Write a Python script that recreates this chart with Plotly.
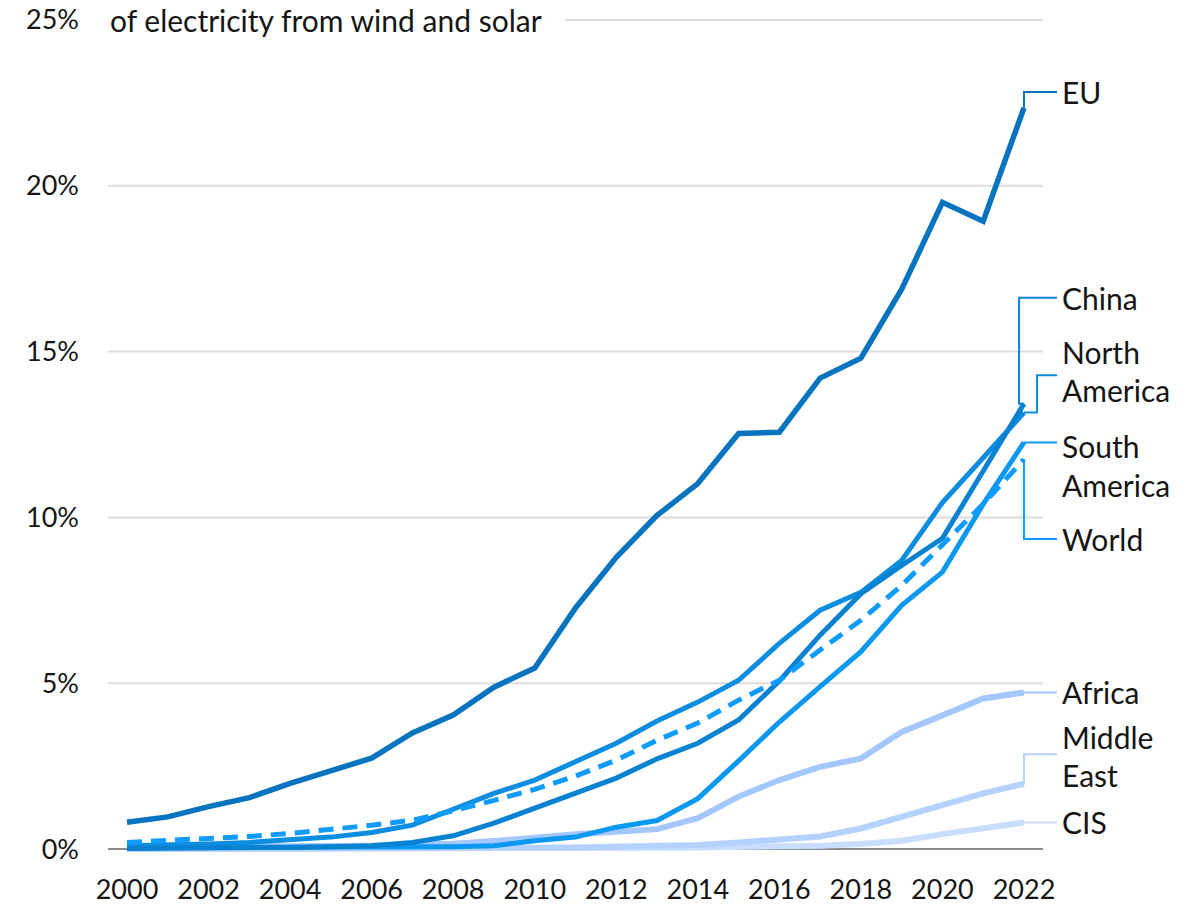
import plotly.graph_objects as go

# Share of electricity generated from wind and solar, by region (%)
years = list(range(2000, 2023))

eu = [0.81, 0.97, 1.28, 1.55, 1.98, 2.37, 2.74, 3.50, 4.04, 4.88, 5.46, 7.27,
      8.80, 10.06, 11.02, 12.53, 12.57, 14.20, 14.80, 16.88, 19.50, 18.93, 22.35]
china = [0.02, 0.02, 0.03, 0.04, 0.05, 0.07, 0.10, 0.20, 0.40, 0.78, 1.22, 1.70,
         2.14, 2.72, 3.19, 3.89, 5.07, 6.45, 7.70, 8.55, 9.37, 11.40, 13.43]
north_america = [0.10, 0.12, 0.15, 0.20, 0.27, 0.36, 0.50, 0.72, 1.20, 1.68, 2.08, 2.63,
                 3.19, 3.86, 4.43, 5.09, 6.20, 7.20, 7.74, 8.70, 10.45, 11.80, 13.16]
south_america = [0.04, 0.04, 0.04, 0.05, 0.05, 0.05, 0.05, 0.06, 0.07, 0.10, 0.25, 0.36,
                 0.66, 0.86, 1.52, 2.66, 3.83, 4.90, 5.95, 7.35, 8.35, 10.40, 12.26]
world = [0.20, 0.25, 0.31, 0.38, 0.47, 0.58, 0.72, 0.87, 1.15, 1.47, 1.80, 2.20,
         2.68, 3.28, 3.80, 4.49, 5.09, 6.00, 6.90, 7.95, 9.20, 10.40, 11.75]
africa = [0.05, 0.05, 0.06, 0.07, 0.08, 0.09, 0.10, 0.12, 0.16, 0.24, 0.36, 0.45,
          0.52, 0.60, 0.93, 1.58, 2.08, 2.48, 2.73, 3.53, 4.03, 4.54, 4.72]
middle_east = [0.00, 0.00, 0.00, 0.00, 0.01, 0.01, 0.01, 0.02, 0.02, 0.03, 0.04, 0.05,
               0.07, 0.09, 0.12, 0.20, 0.30, 0.38, 0.62, 0.97, 1.35, 1.68, 1.97]
cis = [0.00, 0.00, 0.00, 0.00, 0.00, 0.01, 0.01, 0.01, 0.02, 0.02, 0.02, 0.03,
       0.03, 0.04, 0.05, 0.06, 0.07, 0.10, 0.15, 0.25, 0.45, 0.62, 0.80]

y_ticks = [0, 5, 10, 15, 20, 25]
y_tick_labels = ["0%", "5%", "10%", "15%", "20%", "25%"]
x_ticks = list(range(2000, 2023, 2))
title_text = "of electricity from wind and solar"

FONT = "Lato"
TICK_FS = 27
LABEL_FS = 30
TEXT = "#151515"

# draw order: light regions underneath, EU and World on top
series = [
    dict(name="CIS", y=cis, color="#c9ddff", width=6, dash="solid"),
    dict(name="Middle East", y=middle_east, color="#b5d1ff", width=6, dash="solid"),
    dict(name="Africa", y=africa, color="#a4c7ff", width=6, dash="solid"),
    dict(name="South America", y=south_america, color="#0b98f0", width=5, dash="solid"),
    dict(name="North America", y=north_america, color="#0c8de0", width=5, dash="solid"),
    dict(name="China", y=china, color="#0a82d2", width=5, dash="solid"),
    dict(name="EU", y=eu, color="#0874bf", width=5.5, dash="solid"),
    dict(name="World", y=world, color="#109cff", width=5, dash="15px,9px"),
]
by_name = {s["name"]: s for s in series}

# end-label layout: text lines with their vertical slots (in % units) and the
# elbow of the connector line (x in years)
LABEL_X = 2022.885
LEADER_END = 2022.81
labels = {
    "EU":            dict(lines=[("EU", 22.83)], ly=22.83, elbow=2022.0),
    "China":         dict(lines=[("China", 16.62)], ly=16.62, elbow=2021.88),
    "North America": dict(lines=[("North", 14.99), ("America", 13.84)], ly=14.29, elbow=2022.32),
    "South America": dict(lines=[("South", 12.14), ("America", 10.99)], ly=None, elbow=None),
    "World":         dict(lines=[("World", 9.35)], ly=9.35, elbow=2022.0),
    "Africa":        dict(lines=[("Africa", 4.73)], ly=None, elbow=None),
    "Middle East":   dict(lines=[("Middle", 3.38), ("East", 2.23)], ly=2.86, elbow=2022.0),
    "CIS":           dict(lines=[("CIS", 0.81)], ly=None, elbow=None),
}

fig = go.Figure()

for s in series:
    fig.add_trace(go.Scatter(
        x=years, y=s["y"], mode="lines", name=s["name"],
        line=dict(color=s["color"], width=s["width"], dash=s["dash"]),
        showlegend=False, hoverinfo="skip",
    ))

annotations = []
for name, spec in labels.items():
    s = by_name[name]
    end_x, end_y = years[-1], s["y"][-1]
    if spec["ly"] is None:
        lx, ly = [end_x, LEADER_END], [end_y, end_y]
    else:
        e = spec["elbow"]
        lx = [end_x, e, e, LEADER_END]
        ly = [end_y, end_y, spec["ly"], spec["ly"]]
    fig.add_trace(go.Scatter(
        x=lx, y=ly, mode="lines", line=dict(color=s["color"], width=2),
        showlegend=False, hoverinfo="skip",
    ))
    for txt, yy in spec["lines"]:
        annotations.append(dict(
            x=LABEL_X, y=yy, xref="x", yref="y", text=txt, showarrow=False,
            xanchor="left", yanchor="middle",
            font=dict(family=FONT, size=LABEL_FS, color=TEXT),
        ))

annotations.append(dict(
    x=0, y=25, xref="paper", yref="y", text=title_text, showarrow=False,
    xanchor="left", yanchor="middle",
    font=dict(family=FONT, size=LABEL_FS, color=TEXT),
))

X0, X1 = 1999.534, 2024.11
GRID_END = 2022.467
shapes = []
for v in y_ticks[1:]:
    start = 2010.74 if v == 25 else X0
    shapes.append(dict(type="line", xref="x", yref="y", x0=start, x1=GRID_END,
                       y0=v, y1=v, line=dict(color="#dcdcdc", width=2), layer="below"))
shapes.append(dict(type="line", xref="x", yref="y", x0=X0, x1=GRID_END,
                   y0=0, y1=0, line=dict(color="#8c8c8c", width=2), layer="below"))

fig.update_layout(
    width=1201, height=907,
    margin=dict(l=108, r=91, t=10, b=48),
    paper_bgcolor="white", plot_bgcolor="white",
    font=dict(family=FONT, size=TICK_FS, color=TEXT),
    annotations=annotations, shapes=shapes,
    xaxis=dict(range=[X0, X1], tickvals=x_ticks, ticktext=[str(t) for t in x_ticks],
               showgrid=False, zeroline=False, showline=False, ticks="", automargin=False,
               ticklabelstandoff=12, tickfont=dict(family=FONT, size=TICK_FS, color=TEXT)),
    yaxis=dict(range=[-0.3, 25.3], tickvals=y_ticks, ticktext=y_tick_labels,
               showgrid=False, zeroline=False, showline=False, ticks="", automargin=False,
               ticklabelstandoff=28, tickfont=dict(family=FONT, size=TICK_FS, color=TEXT)),
)

fig.write_html("out.html")
